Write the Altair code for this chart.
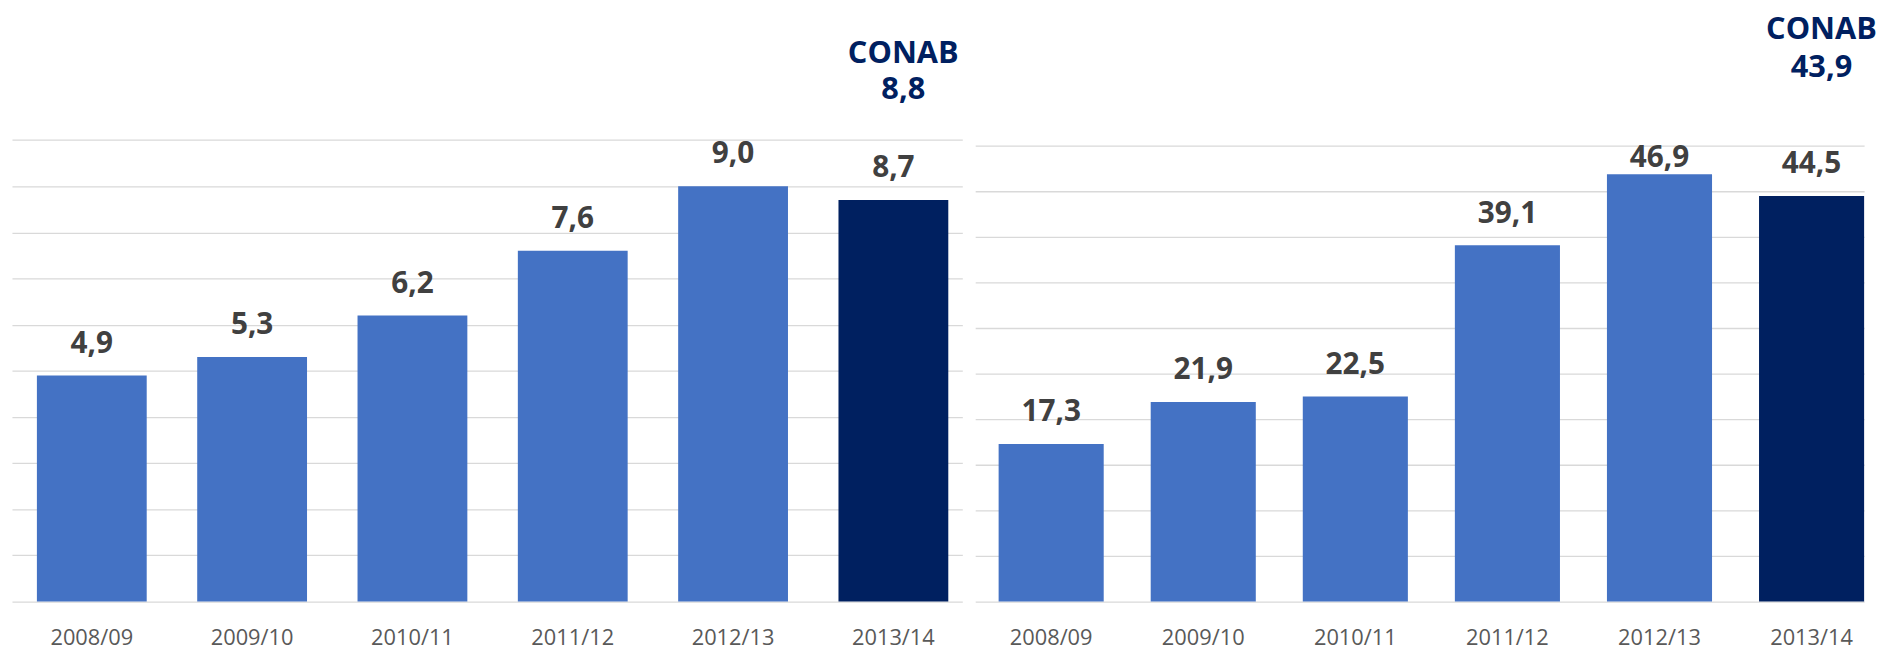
import altair as alt
import pandas as pd

categories = ["2008/09", "2009/10", "2010/11", "2011/12", "2012/13", "2013/14"]
left_values = [4.9, 5.3, 6.2, 7.6, 9.0, 8.7]
right_values = [17.3, 21.9, 22.5, 39.1, 46.9, 44.5]
series_kind = ["hist", "hist", "hist", "hist", "hist", "proj"]
conab_left = 8.8
conab_right = 43.9
left_grid = [0, 1, 2, 3, 4, 5, 6, 7, 8, 9, 10]
right_grid = [0, 5, 10, 15, 20, 25, 30, 35, 40, 45, 50]

FONT = "Open Sans"
BAR = "#4472C4"
NAVY = "#002060"
PLOT_H = 596


def fmt(v):
    return f"{v:.1f}".replace(".", ",")


def panel(values, conab, grid_values, ymax, width, pi, po, align, conab_dx, y1, lh):
    top = grid_values[-1]
    ppu = (PLOT_H / ymax)
    off = 23 / ppu
    cap = top - 21 / ppu
    df = pd.DataFrame({
        "cat": categories,
        "val": values,
        "kind": series_kind,
        "label": [fmt(v) for v in values],
    })
    xs = alt.X(
        "cat:N", sort=categories,
        scale=alt.Scale(paddingInner=pi, paddingOuter=po, align=align),
        axis=alt.Axis(title=None, labelAngle=0, ticks=False, domain=False, grid=False,
                      labelFont=FONT, labelFontSize=22, labelColor="#595959",
                      labelPadding=26),
    )
    ys = alt.Y(
        "val:Q",
        scale=alt.Scale(domain=[0, ymax], nice=False, zero=True),
        axis=alt.Axis(title=None, labels=False, ticks=False, domain=False, grid=True,
                      values=grid_values, gridColor="#D9D9D9", gridWidth=1.3),
    )
    base = alt.Chart(df)
    bars = base.mark_bar().encode(
        x=xs, y=ys,
        color=alt.Color("kind:N", scale=alt.Scale(domain=["hist", "proj"], range=[BAR, NAVY]),
                        legend=None),
    )
    labels = base.transform_calculate(
        ly=f"min(datum.val + {off}, {cap})"
    ).mark_text(
        font=FONT, fontSize=30, fontWeight="bold", color="#404040", baseline="alphabetic"
    ).encode(
        x=alt.X("cat:N", sort=categories),
        y=alt.Y("ly:Q"),
        text="label:N",
    )
    ann_df = pd.DataFrame({"cat": [categories[-1]], "note": [f"CONAB\n{fmt(conab)}"]})
    ann = alt.Chart(ann_df).mark_text(
        font=FONT, fontSize=31, fontWeight="bold", color=NAVY, dx=conab_dx,
        baseline="alphabetic", lineBreak="\n", lineHeight=lh,
    ).encode(x=alt.X("cat:N", sort=categories), y=alt.value(y1), text="note:N")
    return alt.layer(bars, labels, ann).properties(width=width, height=PLOT_H)


left = panel(left_values, conab_left, left_grid, 12.8, 959, 0.315, 0.1215, 0.64, 10, 53, 36)
right = panel(right_values, conab_right, right_grid, 64.83, 897, 0.309, 0.077, 1.0, 10, 28, 39)

chart = alt.hconcat(left, right, spacing=13).resolve_scale(
    y="independent", x="independent", color="shared"
).properties(
    padding={"left": 4, "top": 0, "right": 0, "bottom": 0},
    background="white",
).configure_view(strokeWidth=0, stroke="transparent")

chart.save("out.html", embed_options={"renderer": "svg", "actions": False})
